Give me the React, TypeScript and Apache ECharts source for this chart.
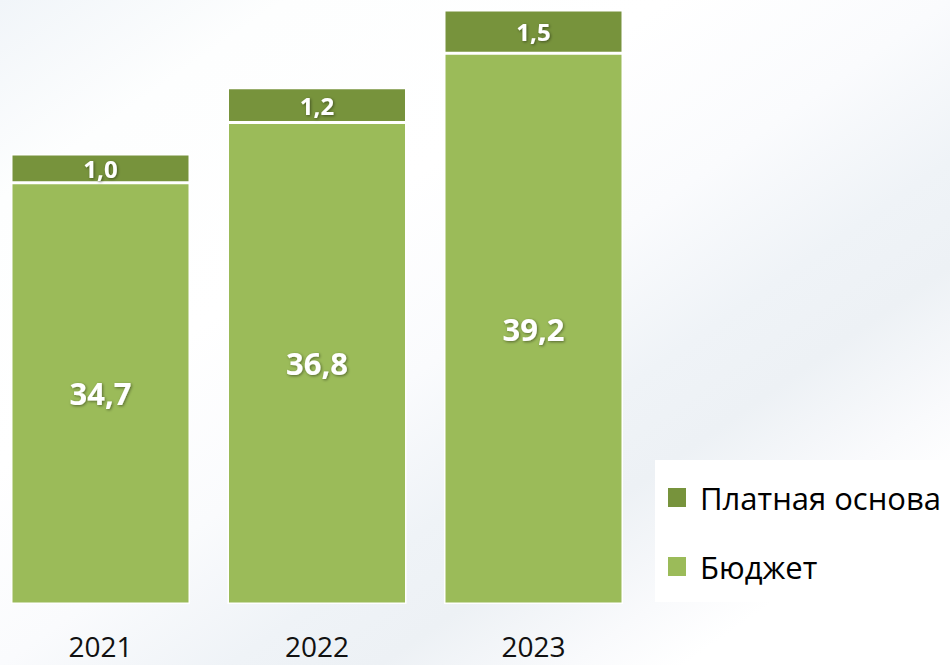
import React, { useEffect, useRef } from "react";
import * as echarts from "echarts";

const years = ["2021", "2022", "2023"];
const budget = [34.7, 36.8, 39.2];
const paid = [1.0, 1.2, 1.5];
const seriesNames = ["Платная основа", "Бюджет"];

const fmt = (v: number) => v.toFixed(1).replace(".", ",");

export default function App() {
  const ref = useRef<HTMLDivElement>(null);
  useEffect(() => {
    if (!ref.current) return;
    const chart = echarts.init(ref.current, undefined, { renderer: "svg" });
    const labelBase = {
      show: true,
      position: "inside" as const,
      color: "#ffffff",
      fontFamily: "Open Sans",
      fontWeight: "bold" as const,
      textShadowColor: "rgba(0,0,0,0.45)",
      textShadowBlur: 3,
      textShadowOffsetX: 1,
      textShadowOffsetY: 1,
      formatter: (p: any) => fmt(p.value),
    };
    chart.setOption({
      animation: false,
      backgroundColor: "transparent",
      grid: { left: 0.25, width: 649.5, top: 0, bottom: 61.7, containLabel: false },
      xAxis: {
        type: "category",
        data: years,
        axisLine: { show: false },
        axisTick: { show: false },
        axisLabel: {
          fontFamily: "Open Sans",
          fontSize: 28,
          color: "#111",
          margin: 28.5,
          lineHeight: 28,
        },
      },
      yAxis: {
        type: "value",
        min: 20.1,
        max: 41.05,
        show: false,
        splitLine: { show: false },
      },
      legend: {
        orient: "vertical",
        left: 676,
        top: 482,
        padding: 0,
        itemWidth: 18,
        itemHeight: 19,
        itemGap: 38,
        icon: "rect",
        data: seriesNames,
        itemStyle: { borderWidth: 0 },
        textStyle: {
          fontFamily: "Open Sans",
          fontSize: 31,
          lineHeight: 30,
          color: "#000",
          padding: [0, 0, 0, 9],
        },
      },
      graphic: [
        {
          type: "rect",
          left: 663,
          top: 460,
          z: -1,
          shape: { width: 300, height: 142 },
          style: { fill: "#ffffff" },
        },
      ],
      series: [
        {
          name: "Бюджет",
          type: "bar",
          stack: "total",
          data: budget,
          barWidth: 179,
          itemStyle: { color: "#9BBB59", borderColor: "#ffffff", borderWidth: 1.5 },
          label: { ...labelBase, fontSize: 31 },
        },
        {
          name: "Платная основа",
          type: "bar",
          stack: "total",
          data: paid,
          barWidth: 179,
          itemStyle: { color: "#77933C", borderColor: "#ffffff", borderWidth: 1.5 },
          label: { ...labelBase, fontSize: 24 },
        },
      ],
    });
    return () => chart.dispose();
  }, []);
  return (
    <div
      style={{
        position: "absolute",
        left: 0,
        top: 0,
        width: 950,
        height: 665,
        overflow: "hidden",
        background:
          "linear-gradient(to bottom right, #F1F5F9 0%, #FDFEFE 15%, #FFFFFF 35%, #FAFBFD 50%, #EFF3F7 62%, #EDF1F5 70%, #F9FAFC 80%, #FFFFFF 86%, #FFFFFF 100%)",
      }}
    >
      <div
        ref={ref}
        style={{ position: "absolute", left: -8, top: 0, width: 958, height: 665 }}
      />
    </div>
  );
}
